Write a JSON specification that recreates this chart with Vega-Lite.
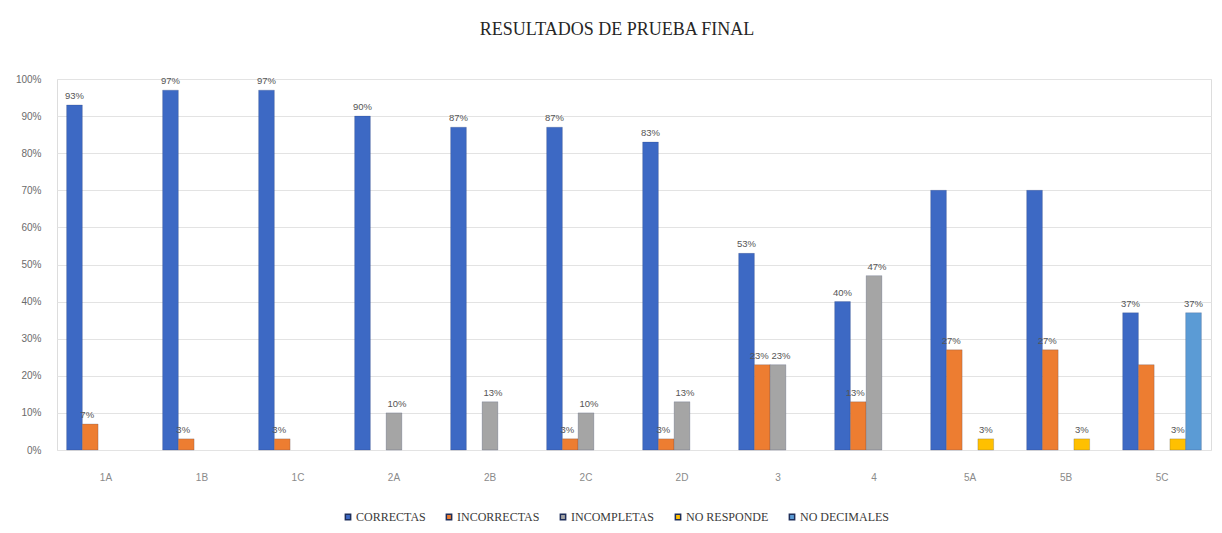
{
  "$schema": "https://vega.github.io/schema/vega-lite/v6.json",
  "autosize": {"type": "none"},
  "width": 1154,
  "height": 371,
  "padding": {"left": 57, "top": 79, "right": 11, "bottom": 83},
  "background": "white",
  "title": {
    "text": "RESULTADOS DE PRUEBA FINAL",
    "font": "Liberation Serif",
    "fontSize": 18,
    "fontWeight": "normal",
    "color": "#262626",
    "anchor": "middle",
    "offset": 35,
    "dx": -17
  },
  "data": {
    "values": [
      {"grupo": "1A", "serie": "CORRECTAS", "valor": 93, "etiqueta": "93%"},
      {"grupo": "1A", "serie": "INCORRECTAS", "valor": 7, "etiqueta": "7%"},
      {"grupo": "1B", "serie": "CORRECTAS", "valor": 97, "etiqueta": "97%"},
      {"grupo": "1B", "serie": "INCORRECTAS", "valor": 3, "etiqueta": "3%"},
      {"grupo": "1C", "serie": "CORRECTAS", "valor": 97, "etiqueta": "97%"},
      {"grupo": "1C", "serie": "INCORRECTAS", "valor": 3, "etiqueta": "3%"},
      {"grupo": "2A", "serie": "CORRECTAS", "valor": 90, "etiqueta": "90%"},
      {"grupo": "2A", "serie": "INCOMPLETAS", "valor": 10, "etiqueta": "10%"},
      {"grupo": "2B", "serie": "CORRECTAS", "valor": 87, "etiqueta": "87%"},
      {"grupo": "2B", "serie": "INCOMPLETAS", "valor": 13, "etiqueta": "13%"},
      {"grupo": "2C", "serie": "CORRECTAS", "valor": 87, "etiqueta": "87%"},
      {"grupo": "2C", "serie": "INCORRECTAS", "valor": 3, "etiqueta": "3%"},
      {"grupo": "2C", "serie": "INCOMPLETAS", "valor": 10, "etiqueta": "10%"},
      {"grupo": "2D", "serie": "CORRECTAS", "valor": 83, "etiqueta": "83%"},
      {"grupo": "2D", "serie": "INCORRECTAS", "valor": 3, "etiqueta": "3%"},
      {"grupo": "2D", "serie": "INCOMPLETAS", "valor": 13, "etiqueta": "13%"},
      {"grupo": "3", "serie": "CORRECTAS", "valor": 53, "etiqueta": "53%"},
      {"grupo": "3", "serie": "INCORRECTAS", "valor": 23, "etiqueta": "23%"},
      {"grupo": "3", "serie": "INCOMPLETAS", "valor": 23, "etiqueta": "23%"},
      {"grupo": "4", "serie": "CORRECTAS", "valor": 40, "etiqueta": "40%"},
      {"grupo": "4", "serie": "INCORRECTAS", "valor": 13, "etiqueta": "13%"},
      {"grupo": "4", "serie": "INCOMPLETAS", "valor": 47, "etiqueta": "47%"},
      {"grupo": "5A", "serie": "CORRECTAS", "valor": 70, "etiqueta": ""},
      {"grupo": "5A", "serie": "INCORRECTAS", "valor": 27, "etiqueta": "27%"},
      {"grupo": "5A", "serie": "NO RESPONDE", "valor": 3, "etiqueta": "3%"},
      {"grupo": "5B", "serie": "CORRECTAS", "valor": 70, "etiqueta": ""},
      {"grupo": "5B", "serie": "INCORRECTAS", "valor": 27, "etiqueta": "27%"},
      {"grupo": "5B", "serie": "NO RESPONDE", "valor": 3, "etiqueta": "3%"},
      {"grupo": "5C", "serie": "CORRECTAS", "valor": 37, "etiqueta": "37%"},
      {"grupo": "5C", "serie": "INCORRECTAS", "valor": 23, "etiqueta": ""},
      {"grupo": "5C", "serie": "NO RESPONDE", "valor": 3, "etiqueta": "3%"},
      {"grupo": "5C", "serie": "NO DECIMALES", "valor": 37, "etiqueta": "37%"}
    ]
  },
  "encoding": {
    "x": {
      "field": "grupo",
      "type": "nominal",
      "sort": ["1A", "1B", "1C", "2A", "2B", "2C", "2D", "3", "4", "5A", "5B", "5C"],
      "scale": {"paddingInner": 0.18, "paddingOuter": 0.1},
      "axis": {
        "title": null,
        "labelAngle": 0,
        "labelFont": "Liberation Sans",
        "labelFontSize": 10,
        "labelColor": "#8a8a8a",
        "labelPadding": 22,
        "ticks": false,
        "domain": false
      }
    },
    "xOffset": {
      "field": "serie",
      "type": "nominal",
      "scale": {"domain": ["CORRECTAS", "INCORRECTAS", "INCOMPLETAS", "NO RESPONDE", "NO DECIMALES"]}
    },
    "y": {
      "field": "valor",
      "type": "quantitative",
      "scale": {"domain": [0, 100]},
      "axis": {
        "title": null,
        "values": [0, 10, 20, 30, 40, 50, 60, 70, 80, 90, 100],
        "labelExpr": "datum.value + '%'",
        "labelFont": "Liberation Sans",
        "labelFontSize": 10,
        "labelColor": "#6b6b6b",
        "labelPadding": 16,
        "ticks": false,
        "domain": false,
        "gridColor": "#e3e3e3",
        "gridWidth": 1.2
      }
    }
  },
  "layer": [
    {
      "mark": {"type": "bar", "stroke": "#1f2f5a", "strokeOpacity": 0.25, "strokeWidth": 0.8},
      "encoding": {
        "color": {
          "field": "serie",
          "type": "nominal",
          "scale": {
            "domain": ["CORRECTAS", "INCORRECTAS", "INCOMPLETAS", "NO RESPONDE", "NO DECIMALES"],
            "range": ["#3D69C4", "#ED7D31", "#A5A5A5", "#FFC000", "#5B9BD5"]
          },
          "legend": {
            "title": null,
            "orient": "none",
            "direction": "horizontal",
            "columns": 5,
            "legendX": 285,
            "legendY": 432,
            "symbolType": "square",
            "symbolSize": 28,
            "labelFont": "Liberation Serif",
            "labelFontSize": 12,
            "labelColor": "#3a3a3a",
            "columnPadding": 17,
            "labelOffset": 2
          }
        }
      }
    },
    {
      "transform": [{"filter": "datum.serie != 'INCORRECTAS' && datum.serie != 'INCOMPLETAS'"}],
      "mark": {"type": "text", "dy": -9, "font": "Liberation Sans", "fontSize": 9.5, "color": "#555555"},
      "encoding": {"text": {"field": "etiqueta"}}
    },
    {
      "transform": [{"filter": "datum.serie == 'INCORRECTAS'"}],
      "mark": {"type": "text", "dy": -9, "dx": -3, "font": "Liberation Sans", "fontSize": 9.5, "color": "#555555"},
      "encoding": {"text": {"field": "etiqueta"}}
    },
    {
      "transform": [{"filter": "datum.serie == 'INCOMPLETAS'"}],
      "mark": {"type": "text", "dy": -9, "dx": 3, "font": "Liberation Sans", "fontSize": 9.5, "color": "#555555"},
      "encoding": {"text": {"field": "etiqueta"}}
    }
  ]
}
